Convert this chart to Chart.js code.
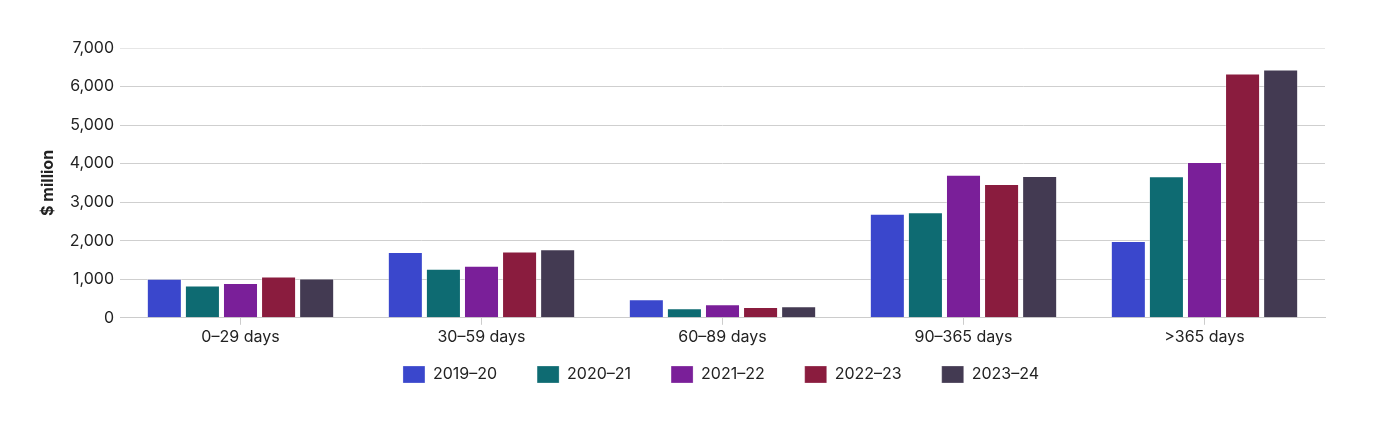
<!DOCTYPE html>
<html><head><meta charset="utf-8">
<script src="https://cdn.jsdelivr.net/npm/chart.js@4.4.1/dist/chart.umd.min.js"></script>
<style>html,body{margin:0;padding:0;background:#fff}#wrap{width:1378px;height:422px}</style>
</head><body><div id="wrap"><canvas id="c"></canvas></div>
<script>
const categories = ["0\u201329 days","30\u201359 days","60\u201389 days","90\u2013365 days",">365 days"];
const seriesNames = ["2019\u201320","2020\u201321","2021\u201322","2022\u201323","2023\u201324"];
const s2019 = [1010,1710,480,2700,1990];
const s2020 = [840,1270,250,2740,3670];
const s2021 = [900,1350,350,3710,4040];
const s2022 = [1070,1720,280,3470,6340];
const s2023 = [1020,1780,300,3680,6440];
const colors = ["#3a47cc","#0e6b72","#7a1f99","#8a1c3e","#433a52"];
const yTicks = [0,1000,2000,3000,4000,5000,6000,7000];
const values = [s2019,s2020,s2021,s2022,s2023];

const LEGEND_H = 52, LEGEND_SHIFT = 24, LEGEND_DX = 39;
const legendTrim = {
  id:'legendTrim',
  beforeLayout(chart){
    const lg = chart.legend;
    if (lg && !lg.__patched){
      const of = lg.fit, od = lg.draw;
      lg.fit = function(){ of.call(this); this.height = LEGEND_H; };
      lg.draw = function(){
        const t=this.top, l=this.left, r=this.right;
        this.top = t - LEGEND_SHIFT; this.left = l + LEGEND_DX; this.right = r + LEGEND_DX;
        od.call(this);
        this.top = t; this.left = l; this.right = r;
      };
      lg.__patched = true;
    }
  }
};

Chart.defaults.font.family = "Inter, 'Noto Sans', sans-serif";
Chart.defaults.color = "#222";
new Chart(document.getElementById('c'), {
  type:'bar',
  data:{labels:categories, datasets: values.map((v,i)=>({label:seriesNames[i], data:v, backgroundColor:colors[i], borderColor:'rgba(255,255,255,0.35)', borderWidth:{top:1,left:1,right:1,bottom:0}, categoryPercentage:0.79, barPercentage:0.92}))},
  plugins:[legendTrim],
  options:{
    responsive:true, maintainAspectRatio:false, animation:false,
    layout:{padding:{left:39,right:53,top:48,bottom:20}},
    plugins:{
      legend:{position:'bottom', labels:{boxWidth:22, boxHeight:17, padding:40, font:{size:16}, color:'#222'}},
      tooltip:{enabled:false}
    },
    scales:{
      x:{grid:{offset:false, drawOnChartArea:false, tickLength:7, color:'#ccc'}, border:{color:'#ccc'}, ticks:{font:{size:16}, padding:3, color:'#222'}},
      y:{min:0,max:7000, afterBuildTicks:(s)=>{s.ticks=yTicks.map(v=>({value:v}));},
         afterFit:(s)=>{s.width=81;},
         grid:{color:(c)=>c.tick && c.tick.value===7000?'#e6e6e6':'#cfcfcf', drawTicks:false},
         border:{display:false},
         ticks:{font:{size:16}, padding:6, color:'#222', callback:(v)=>v.toLocaleString('en-US')},
         title:{display:true, text:'$ million', font:{size:16, weight:'bold'}, color:'#222', padding:{top:0,bottom:0}}}
    }
  }
});
</script></body></html>
